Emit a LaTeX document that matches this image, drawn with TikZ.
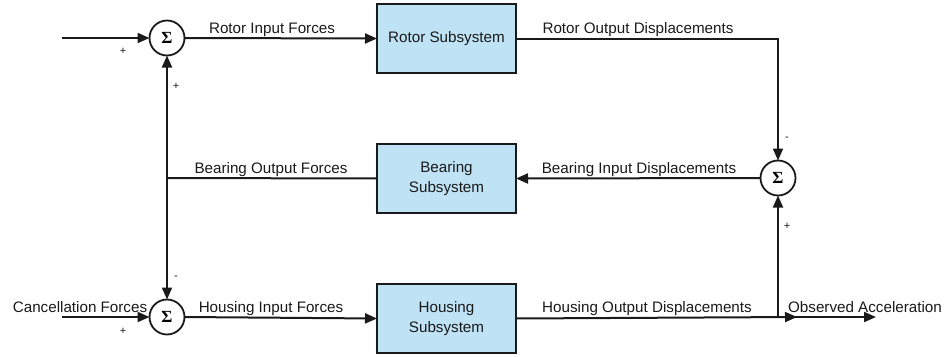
\documentclass[tikz,border=0pt]{standalone}
\usepackage{fontspec}
\setmainfont{Liberation Sans}
\newfontfamily\sigmafont{Liberation Serif}
\usetikzlibrary{arrows.meta}
\definecolor{boxblue}{HTML}{BFE2F5}
\definecolor{ink}{HTML}{1A1A1A}
\begin{document}
\begin{tikzpicture}[x=1pt,y=-1pt,
  every node/.style={inner sep=0pt,outer sep=0pt},
  lbl/.style={font=\fontsize{15.2}{17}\selectfont,anchor=base,text=ink},
  sgn/.style={font=\fontsize{11}{12}\selectfont,text=ink},
  sub/.style={draw=ink,line width=2pt,fill=boxblue,minimum width=139pt,minimum height=69pt,
    align=center,font=\fontsize{15.2}{20}\selectfont,text=ink},
  sumnode/.style={draw=ink,line width=1.8pt,circle,minimum size=35pt,fill=white,
    font=\sigmafont\bfseries\fontsize{17}{17}\selectfont},
  conn/.style={draw=ink,line width=2pt},
  arr/.style={conn,-{Triangle[length=12pt,width=10pt]}}]
\useasboundingbox (0,0) rectangle (950,356);

% summing junctions
\node[sumnode] (s1) at (167,38) {Σ};
\node[sumnode] (s2) at (167,317) {Σ};
\node[sumnode] (s3) at (778,178) {Σ};

% subsystems
\node[sub] (rotor) at (446.5,38.5) {Rotor Subsystem};
\node[sub] (bearing) at (446.5,178.5) {Bearing\\Subsystem};
\node[sub] (housing) at (446.5,318.5) {Housing\\Subsystem};

% free ends and junctions
\coordinate (inTop) at (62,38);
\coordinate (inCan) at (62,317);
\coordinate (j1) at (167,178);
\coordinate (j2) at (778,317);
\coordinate (hEnd) at (797,317);
\coordinate (obs) at (876,317);

% connectors
\draw[arr] (inTop) -- (s1.west);
\draw[arr] (s1.east) -- (rotor.west);
\draw[arr] (rotor.east) -| (s3.north);
\draw[arr] (s3.west) -- (bearing.east);
\draw[conn] (bearing.west) -- (j1);
\draw[arr] (j1) -- (s1.south);
\draw[arr] (j1) -- (s2.north);
\draw[arr] (inCan) -- (s2.west);
\draw[arr] (s2.east) -- (housing.west);
\draw[arr] (housing.east) -- (hEnd);
\draw[arr] (j2) -- (obs);
\draw[arr] (j2) -- (s3.south);

% connector labels
\node[lbl] (l1) at (272,33) {Rotor Input Forces};
\node[lbl] (l2) at (638,33) {Rotor Output Displacements};
\node[lbl] (l3) at (639,173) {Bearing Input Displacements};
\node[lbl] (l4) at (271,173) {Bearing Output Forces};
\node[lbl] (l5) at (80,312) {Cancellation Forces};
\node[lbl] (l6) at (271,312) {Housing Input Forces};
\node[lbl] (l7) at (647,312) {Housing Output Displacements};
\node[lbl] (l8) at (865,312) {Observed Acceleration};

% signs
\node[sgn] (p1) at (123,51) {+};
\node[sgn] (p2) at (176,86) {+};
\node[sgn] (m1) at (787,139) {-};
\node[sgn] (p3) at (787,226) {+};
\node[sgn] (m2) at (176,278) {-};
\node[sgn] (p4) at (123,331) {+};
\end{tikzpicture}
\end{document}
